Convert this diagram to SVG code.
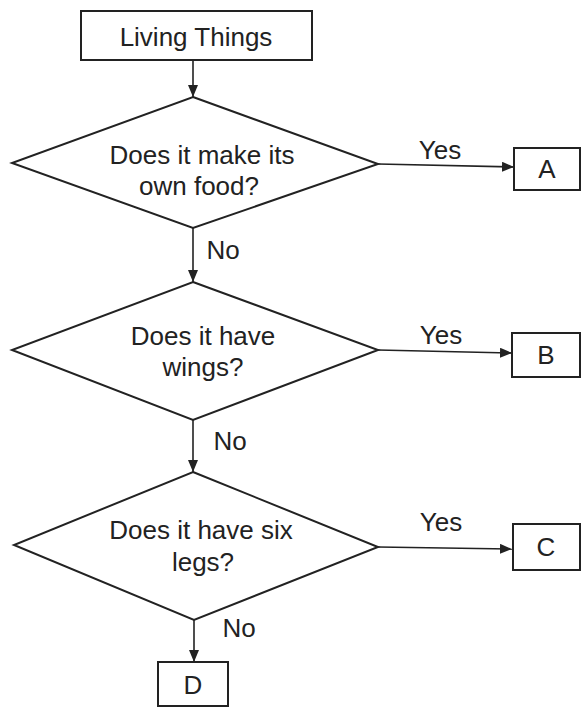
<svg xmlns="http://www.w3.org/2000/svg" width="583" height="708" viewBox="0 0 583 708">
<style>
.s{fill:#fff;stroke:#222;stroke-width:2}
.c{fill:none;stroke:#222;stroke-width:1.6}
text{font-family:"Liberation Sans",Arial,sans-serif;font-size:26px;fill:#222;text-anchor:middle}
</style>
<defs>
<marker id="ah" viewBox="0 0 10 10" refX="10" refY="5" markerWidth="12" markerHeight="10" markerUnits="userSpaceOnUse" orient="auto" preserveAspectRatio="none">
<path d="M0,0 L10,5 L0,10 z" fill="#222"/>
</marker>
</defs>
<rect width="583" height="708" fill="#fff"/>
<g id="connectors">
<line class="c" x1="193" y1="60" x2="193" y2="97" marker-end="url(#ah)"/>
<line class="c" x1="378" y1="164" x2="514" y2="167" marker-end="url(#ah)"/>
<line class="c" x1="193" y1="228" x2="193" y2="282" marker-end="url(#ah)"/>
<line class="c" x1="378" y1="350" x2="512" y2="353" marker-end="url(#ah)"/>
<line class="c" x1="193" y1="420" x2="193" y2="472" marker-end="url(#ah)"/>
<line class="c" x1="378" y1="547" x2="512" y2="549" marker-end="url(#ah)"/>
<line class="c" x1="194" y1="620" x2="194" y2="662" marker-end="url(#ah)"/>
<text x="440" y="159">Yes</text>
<text x="223" y="259">No</text>
<text x="441" y="344">Yes</text>
<text x="230" y="450">No</text>
<text x="441" y="531">Yes</text>
<text x="239" y="637">No</text>
</g>
<g id="start">
<rect class="s" x="81" y="11" width="231" height="49"/>
<text x="196" y="46">Living Things</text>
</g>
<g id="q1">
<polygon class="s" points="193,97 378,164 193,228 12,163"/>
<text x="202" y="164">Does it make its</text>
<text x="199" y="195">own food?</text>
</g>
<g id="q2">
<polygon class="s" points="193,282 378,350 193,420 12,350"/>
<text x="203" y="345">Does it have</text>
<text x="203" y="376">wings?</text>
</g>
<g id="q3">
<polygon class="s" points="193,472 378,547 194,620 14,545"/>
<text x="201" y="539">Does it have six</text>
<text x="203" y="571">legs?</text>
</g>
<g id="A">
<rect class="s" x="514" y="148" width="66" height="42"/>
<text x="547" y="178">A</text>
</g>
<g id="B">
<rect class="s" x="512" y="333" width="68" height="44"/>
<text x="546" y="364">B</text>
</g>
<g id="C">
<rect class="s" x="513" y="524" width="67" height="46"/>
<text x="546" y="556">C</text>
</g>
<g id="D">
<rect class="s" x="158" y="662" width="70" height="44"/>
<text x="193" y="694">D</text>
</g>
</svg>
